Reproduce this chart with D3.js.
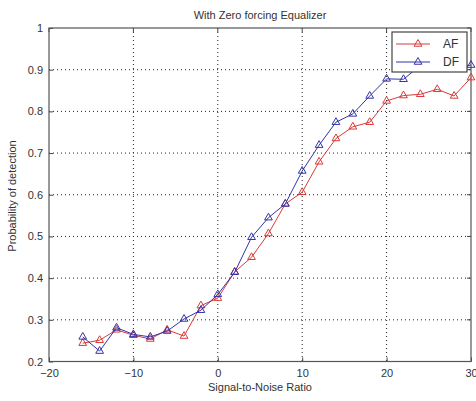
<!DOCTYPE html>
<html>
<head>
<meta charset="utf-8">
<script src="https://cdn.jsdelivr.net/npm/d3@7"></script>
<style>
  body { margin: 0; background: #fff; }
  text { font-family: "Liberation Sans", Arial, sans-serif; fill: #333; }
</style>
</head>
<body>
<svg id="chart" width="476" height="401"></svg>
<script>
// SNR values (x) and detection probabilities
const snr = [-16, -14, -12, -10, -8, -6, -4, -2, 0, 2, 4, 6, 8, 10, 12, 14, 16, 18, 20, 22, 24, 26, 28, 30];
const afValues = [0.244, 0.251, 0.276, 0.263, 0.254, 0.276, 0.261, 0.334, 0.352, 0.415, 0.450, 0.507, 0.578, 0.606, 0.679, 0.735, 0.763, 0.774, 0.825, 0.838, 0.841, 0.853, 0.837, 0.881];
const dfValues = [0.259, 0.225, 0.281, 0.265, 0.259, 0.273, 0.302, 0.323, 0.361, 0.414, 0.498, 0.545, 0.578, 0.657, 0.719, 0.774, 0.794, 0.837, 0.878, 0.877, 0.91, 0.925, 0.905, 0.911];
const xTicks = [-20, -10, 0, 10, 20, 30];
const yTicks = [0.2, 0.3, 0.4, 0.5, 0.6, 0.7, 0.8, 0.9, 1];

const series = [
  { name: "AF", values: afValues, color: "#d83a3a" },
  { name: "DF", values: dfValues, color: "#3333a8" }
];

const svg = d3.select("#chart");
const plotL = 49, plotR = 471, plotT = 28, plotB = 361.5;

const x = d3.scaleLinear().domain([-20, 30]).range([plotL, plotR]);
const y = d3.scaleLinear().domain([0.2, 1]).range([plotB, plotT]);

// grid
svg.append("g")
  .selectAll("line")
  .data(xTicks.slice(1, -1))
  .enter()
  .append("line")
  .attr("x1", d => x(d)).attr("x2", d => x(d))
  .attr("y1", plotT).attr("y2", plotB)
  .attr("stroke", "#222").attr("stroke-width", 1)
  .attr("stroke-dasharray", "1,3");

svg.append("g")
  .selectAll("line")
  .data(yTicks.slice(1, -1))
  .enter()
  .append("line")
  .attr("x1", plotL).attr("x2", plotR)
  .attr("y1", d => y(d)).attr("y2", d => y(d))
  .attr("stroke", "#222").attr("stroke-width", 1)
  .attr("stroke-dasharray", "1,3");

// axes (ticks inside, MATLAB style)
const xAxis = svg.append("g")
  .attr("transform", `translate(0,${plotB})`)
  .call(d3.axisBottom(x).tickValues(xTicks).tickSizeInner(-4).tickSizeOuter(0).tickPadding(8));
const yAxis = svg.append("g")
  .attr("transform", `translate(${plotL},0)`)
  .call(d3.axisLeft(y).tickValues(yTicks).tickSizeInner(-4).tickSizeOuter(0).tickPadding(6)
    .tickFormat(d3.format("~g")));

[xAxis, yAxis].forEach(a => {
  a.selectAll("text").style("font-size", "11px").attr("fill", "#333");
  a.selectAll("line").attr("stroke", "#444");
  a.select(".domain").attr("stroke", "none");
});

// top/right ticks
svg.append("g").selectAll("line")
  .data(xTicks).enter().append("line")
  .attr("x1", d => x(d)).attr("x2", d => x(d))
  .attr("y1", plotT).attr("y2", plotT + 4).attr("stroke", "#444");
svg.append("g").selectAll("line")
  .data(yTicks).enter().append("line")
  .attr("x1", plotR).attr("x2", plotR - 4)
  .attr("y1", d => y(d)).attr("y2", d => y(d)).attr("stroke", "#444");

// box
svg.append("rect")
  .attr("x", plotL).attr("y", plotT)
  .attr("width", plotR - plotL).attr("height", plotB - plotT)
  .attr("fill", "none").attr("stroke", "#555").attr("stroke-width", 1.2);

const tri = d3.symbol().type(d3.symbolTriangle).size(26);

// lines and markers
series.forEach(s => {
  const pts = snr.map((v, i) => [v, s.values[i]]);
  svg.append("path")
    .datum(pts)
    .attr("d", d3.line().x(d => x(d[0])).y(d => y(d[1])))
    .attr("fill", "none").attr("stroke", s.color).attr("stroke-width", 1);
  svg.append("g")
    .selectAll("path")
    .data(pts)
    .enter()
    .append("path")
    .attr("d", tri)
    .attr("transform", d => `translate(${x(d[0])},${y(d[1])})`)
    .attr("fill", "none").attr("stroke", s.color).attr("stroke-width", 1);
});

// title and labels
svg.append("text")
  .attr("x", (plotL + plotR) / 2).attr("y", 19)
  .attr("text-anchor", "middle").style("font-size", "11px")
  .text("With Zero forcing Equalizer");
svg.append("text")
  .attr("x", (plotL + plotR) / 2).attr("y", 391)
  .attr("text-anchor", "middle").style("font-size", "11px")
  .text("Signal-to-Noise Ratio");
svg.append("text")
  .attr("transform", `translate(16,196) rotate(-90)`)
  .attr("text-anchor", "middle").style("font-size", "11px")
  .text("Probability of detection");

// legend
const legend = svg.append("g").attr("transform", "translate(392,32)");
legend.append("rect")
  .attr("width", 75).attr("height", 40)
  .attr("fill", "#fff").attr("stroke", "#444").attr("stroke-width", 1.2);
series.forEach((s, i) => {
  const ly = 12 + i * 18;
  legend.append("line")
    .attr("x1", 4).attr("x2", 38).attr("y1", ly).attr("y2", ly)
    .attr("stroke", s.color);
  legend.append("path")
    .attr("d", tri)
    .attr("transform", `translate(26,${ly})`)
    .attr("fill", "none").attr("stroke", s.color);
  legend.append("text")
    .attr("x", 51).attr("y", ly + 4)
    .style("font-size", "12px")
    .text(s.name);
});
</script>
</body>
</html>
